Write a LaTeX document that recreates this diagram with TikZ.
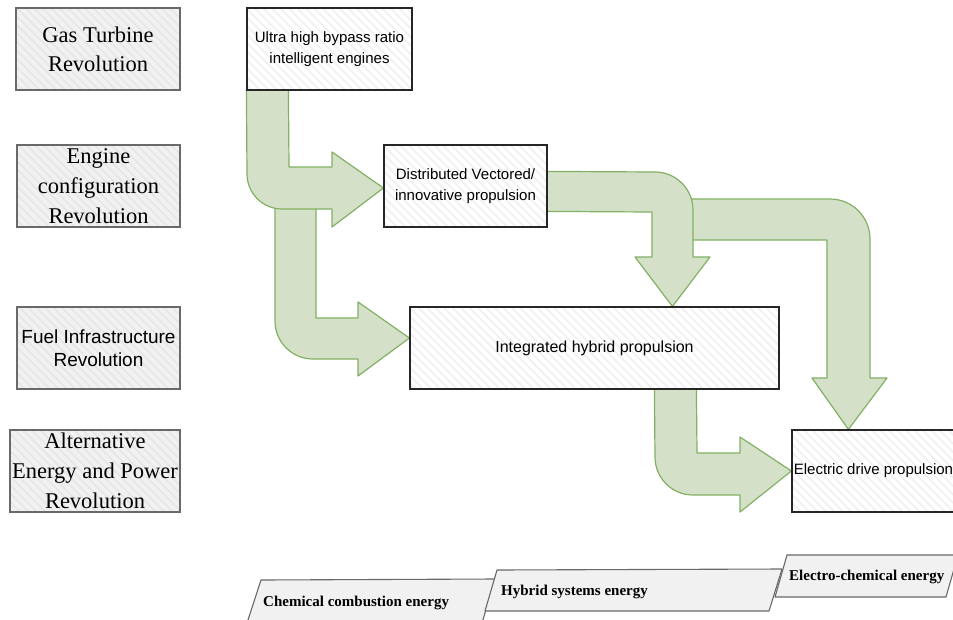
\documentclass[tikz,border=0pt]{standalone}
\usepackage{fontspec}
\setmainfont{Liberation Serif}
\setsansfont{Liberation Sans}
\usetikzlibrary{patterns.meta,calc,backgrounds}
\definecolor{arrfill}{RGB}{212,225,200}
\definecolor{arrline}{RGB}{130,176,100}
\definecolor{lgray}{RGB}{241,241,241}
\definecolor{lborder}{RGB}{105,105,105}
\definecolor{hatchL}{RGB}{230,230,230}
\definecolor{hatchR}{RGB}{240,240,240}
\tikzset{
  leftbox/.style={draw=lborder, line width=1.2pt, preaction={fill=lgray},
    pattern={Lines[angle=-45,distance=6pt,line width=1.6pt]}, pattern color=hatchL,
    align=center, inner sep=0pt, minimum height=82, font=\fontsize{22.5}{29}\selectfont},
  rightbox/.style={draw=black!85, line width=1.2pt, preaction={fill=white},
    pattern={Lines[angle=-45,distance=6pt,line width=1.6pt]}, pattern color=hatchR,
    align=center, inner sep=0pt, minimum height=82, font=\sffamily\fontsize{15}{21}\selectfont},
  barrow/.style={fill=arrfill, draw=arrline, line width=1.2pt, line join=round},
  para/.style={fill=lgray, draw=lborder, line width=1.1pt, line join=round},
  paratext/.style={anchor=west, inner sep=0pt, font=\bfseries\fontsize{15}{18}\selectfont}
}
\begin{document}
\begin{tikzpicture}[x=1pt,y=-1pt]
\useasboundingbox (0,0) rectangle (953,619);

% left column
\node[leftbox, minimum width=164] (g1) at (98,49) {Gas Turbine\\Revolution};
\node[leftbox, minimum width=163, font=\fontsize{22.5}{30}\selectfont] (g2) at (98.5,186) {Engine\\configuration\\Revolution};
\node[leftbox, minimum width=163, font=\sffamily\fontsize{19}{23}\selectfont] (g3) at (98.5,348) {Fuel Infrastructure\\Revolution};
\node[leftbox, minimum width=170, font=\fontsize{22.5}{30}\selectfont] (g4) at (95,471) {Alternative\\Energy and Power\\Revolution};

% main boxes
\node[rightbox, minimum width=165] (A) at (329.5,49) {Ultra high bypass ratio\\intelligent engines};
\node[rightbox, minimum width=163] (B) at (465.5,186) {Distributed Vectored/\\innovative propulsion};
\node[rightbox, minimum width=369, font=\sffamily\fontsize{16}{21}\selectfont] (C) at (594.5,348) {Integrated hybrid propulsion};
\node[rightbox, minimum width=163] (D) at (873.5,471) {Electric drive propulsion};

\begin{scope}[on background layer]
\fill[white] (0,0) rectangle (953,619);
% arrow A -> C (behind)
\draw[barrow] (316,195) -- (316,318) -- (358,318) -- (358,302) -- ([yshift=10pt]C.west)
  -- (358,376) -- (358,359) -- (313,359) .. controls (292,359) and (275,342) .. (275,321)
  -- (275,195) -- cycle;
% arrow A -> B
\draw[barrow] ($(A.south west)+(42,-1)$) -- (289,167) -- (332,167) -- (332,152)
  -- ([yshift=-2pt]B.west) -- (332,227) -- (332,209) -- (282,209)
  .. controls (262.7,209) and (247,193.3) .. (247,174) -- ($(A.south west)+(0,-1)$) -- cycle;
% arrow -> D (behind B->C arrow)
\draw[barrow] (680,199) -- (830,199) .. controls (852.1,199) and (870,216.9) .. (870,239)
  -- (870,378) -- (887,378) -- ($(D.north west)+(57,0)$) -- (812,378) -- (827,378)
  -- (827,240) -- (680,240) -- cycle;
% arrow B -> C
\draw[barrow] ($(B.north east)+(-1,27)$) -- (655,172) .. controls (676,172) and (693,189) .. (693,210)
  -- (693,257) -- (710,257) -- ($(C.north west)+(263,0)$) -- (635,257) -- (652,257)
  -- (652,212) -- ($(B.north east)+(-1,67)$) -- cycle;
% arrow C -> D
\draw[barrow] ($(C.south west)+(287,-1)$) -- (697,453) -- (740,453) -- (740,437) -- (D.west)
  -- (740,512) -- (740,495) -- (693,495) .. controls (672,495) and (655,478) .. (655,457)
  -- ($(C.south west)+(245,-1)$) -- cycle;
\end{scope}

% bottom energy bands
\draw[para] (261,580) -- (495,579) -- (482,623) -- (247,623) -- cycle;
\draw[para] (497,570) -- (782,569) -- (769,611) -- (485,611) -- cycle;
\draw[para] (787,555) -- (958,555) -- (946,597) -- (775,597) -- cycle;
\node[paratext] (e1) at (263,603) {Chemical combustion energy};
\node[paratext] (e2) at (501,592) {Hybrid systems energy};
\node[paratext] (e3) at (789,577) {Electro-chemical energy};
\end{tikzpicture}
\end{document}
